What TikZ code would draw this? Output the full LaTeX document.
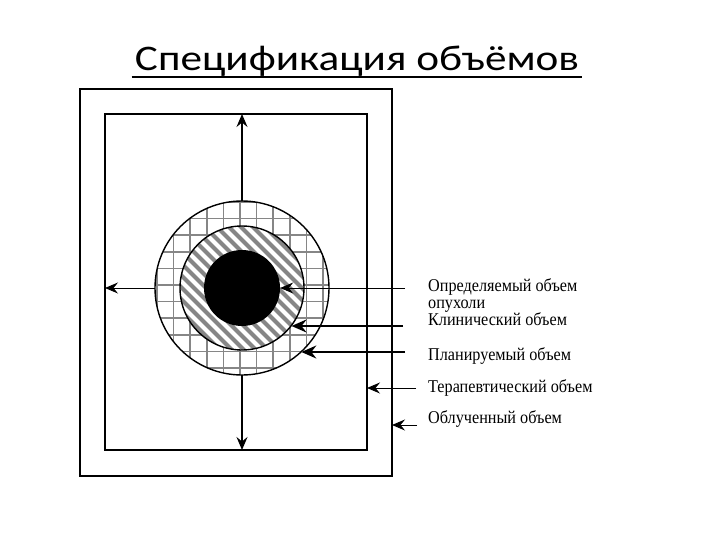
\documentclass[tikz,border=0pt]{standalone}
\usepackage{fontspec}
\setmainfont{Liberation Serif}
\newfontfamily\titlefont{Carlito}
\usetikzlibrary{arrows.meta,calc}

\tikzset{
  frame/.style={draw, line width=2.6pt, inner sep=0pt, outer sep=0pt},
  ring/.style={draw, circle, line width=1.4pt, inner sep=0pt, outer sep=0pt},
  arr/.style={line width=1.3pt, -{Stealth[length=13pt,width=11pt,inset=4.5pt]}},
  thin arr/.style={line width=0.9pt, -{Stealth[length=13pt,width=11pt,inset=4.5pt]}},
  bold arr/.style={line width=2pt, -{Stealth[length=15pt,width=13pt,inset=5pt]}},
  grid line/.style={draw=gray!95, line width=1.7pt},
  stripe/.style={draw=gray!95, line width=4pt},
  lbl/.style={anchor=base west, inner sep=0pt, xscale=0.9, font=\fontsize{18}{17}\selectfont}
}

\begin{document}
\begin{tikzpicture}[x=1pt,y=1pt,yscale=-1]
		\useasboundingbox (0,0) rectangle (720,540);

		% Title
		\node[anchor=base, inner sep=0pt, xscale=1.2, font=\titlefont\fontsize{36}{40}\selectfont] (title) at (357,71) {Спецификация объёмов};
		\draw[line width=2.4pt] ($(title.base west)+(-3,6)$) -- ($(title.base east)+(3,6)$);

		% Centre of the volumes
		\coordinate (c) at (242,288);

		% Planning volume: grey grid
		\begin{scope}
			\clip (c) circle (87);
			\foreach \k in {-6,...,6} {
				\draw[grid line] ($(c)+(\k*16.6-2,-90)$) -- ++(0,180);
				\draw[grid line] ($(c)+(-90,\k*16.6-3)$) -- ++(180,0);
			}
		\end{scope}

		% Clinical volume: diagonal stripes
		\begin{scope}
			\clip (c) circle (62);
			\fill[white] (c) circle (62);
			\foreach \k in {-12,...,12}
				\draw[stripe] ($(c)+(\k*12-80,-80)$) -- ++(160,160);
		\end{scope}

		% Tumour volume
		\fill[black] (c) circle (38);

		% Outlines
		\node[ring, minimum size=174pt] (ptv) at (c) {};
		\node[ring, minimum size=124pt] (ctv) at (c) {};
		\node[circle, inner sep=0pt, minimum size=76pt] (gtv) at (c) {};

		% Treatment and irradiated volumes
		\node[frame, minimum width=312pt, minimum height=387pt] (irr) at (236,282.5) {};
		\node[frame, minimum width=262pt, minimum height=336pt] (ther) at (236,282) {};

		% Arrows from the planning volume out to the treatment volume
		\draw[arr] (ptv.north) -- (ptv.north |- ther.north);
		\draw[arr] (ptv.south) -- (ptv.south |- ther.south);
		\draw[thin arr] (ptv.west) -- (ptv.west -| ther.west);

		% Leader starts
		\coordinate (s1) at (405,288);
		\coordinate (s2) at (403,326);
		\coordinate (s3) at (405,352);
		\coordinate (s4) at (416,388);
		\coordinate (s5) at (417,425);

		% Leaders
		\draw[thin arr] (s1) -- (gtv.east);
		\draw[bold arr] (s2) -- (s2 -| ctv.-37);
		\draw[bold arr] (s3) -- (s3 -| ptv.-47);
		\draw[thin arr] (s4) -- (s4 -| ther.east);
		\draw[thin arr] (s5) -- (s5 -| irr.east);

		% Labels
		\node[lbl, align=left, anchor=north west] (lgtv) at (428,278) {Определяемый объем\\опухоли};
		\node[lbl] (lctv) at (428,325) {Клинический объем};
		\node[lbl] (lptv) at (428,360) {Планируемый объем};
		\node[lbl] (lther) at (428,392) {Терапевтический объем};
		\node[lbl] (lirr) at (428,423) {Облученный объем};
	\end{tikzpicture}
\end{document}
